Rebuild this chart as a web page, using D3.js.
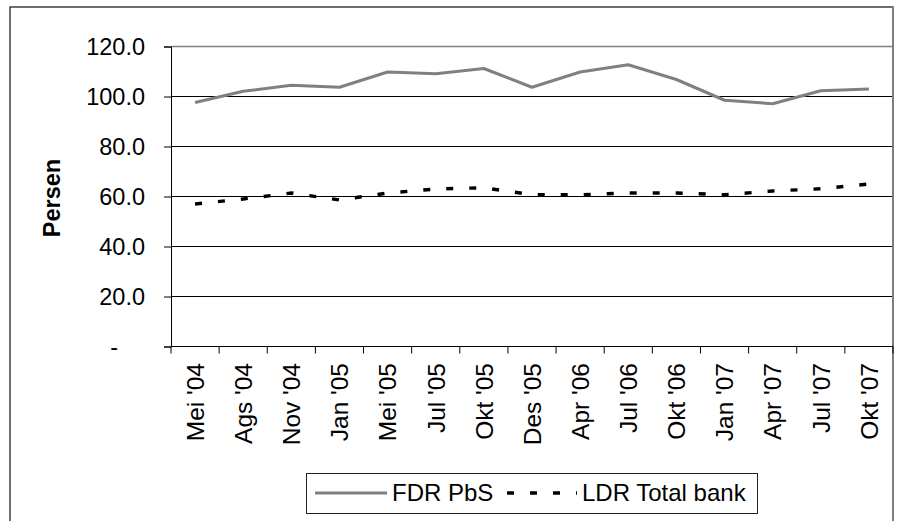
<!DOCTYPE html>
<html>
<head>
<meta charset="utf-8">
<script src="https://cdn.jsdelivr.net/npm/d3@7"></script>
<style>
  html, body { margin: 0; padding: 0; background: #fff; }
  svg { display: block; font-family: "Liberation Sans", Arial, sans-serif; }
</style>
</head>
<body>
<svg id="chart" width="900" height="521"></svg>
<script>
const categories = ["Mei '04", "Ags '04", "Nov '04", "Jan '05", "Mei '05", "Jul '05", "Okt '05", "Des '05", "Apr '06", "Jul '06", "Okt '06", "Jan '07", "Apr '07", "Jul '07", "Okt '07"];
const fdrPbS = [97.6, 102.1, 104.5, 103.7, 109.8, 109.1, 111.2, 103.7, 109.8, 112.7, 106.8, 98.5, 97.1, 102.3, 103.0];
const ldrTotalBank = [57.0, 59.0, 61.4, 58.6, 61.4, 63.0, 63.5, 60.7, 60.7, 61.4, 61.4, 60.7, 62.2, 63.1, 65.0];
const yTicks = [0, 20, 40, 60, 80, 100, 120];
const seriesNames = ["FDR PbS", "LDR Total bank"];
const yTitle = "Persen";

(function () {
const svg = d3.select("#chart");

// outer chart border
svg.append("rect").attr("x", 10).attr("y", 7).attr("width", 883).attr("height", 530)
  .attr("fill", "none").attr("stroke", "#222").attr("stroke-width", 1.3);

const pLeft = 171, pRight = 893, pTop = 46.5, pBottom = 346.5;
const x = d3.scaleBand().domain(categories).range([pLeft, pRight]);
const y = d3.scaleLinear().domain([0, 120]).range([pBottom, pTop]);

// gridlines
svg.append("g").selectAll("line").data(yTicks.filter(d => d > 0 && d < 120)).join("line")
  .attr("x1", pLeft).attr("x2", pRight).attr("y1", d => y(d)).attr("y2", d => y(d))
  .attr("stroke", "#000").attr("stroke-width", 1);

// plot area top & right border (gray)
svg.append("line").attr("x1", pLeft).attr("x2", pRight).attr("y1", y(120)).attr("y2", y(120))
  .attr("stroke", "#808080").attr("stroke-width", 1.5);
svg.append("line").attr("x1", pRight).attr("x2", pRight).attr("y1", 7).attr("y2", 521)
  .attr("stroke", "#808080").attr("stroke-width", 1.8);

// y axis
const yAxis = d3.axisLeft(y).tickValues(yTicks)
  .tickFormat(d => d === 0 ? "-" : d3.format(".1f")(d))
  .tickSize(7).tickPadding(19);
const gy = svg.append("g").attr("transform", `translate(${pLeft},0)`).call(yAxis);
gy.select(".domain").attr("stroke", "#000");
gy.selectAll(".tick line").attr("stroke", "#000");
gy.selectAll(".tick text").attr("fill", "#000").style("font-size", "23.5px")
  .attr("dx", d => d === 0 ? -27 : 0);

// x axis line
svg.append("line").attr("x1", pLeft).attr("x2", pRight).attr("y1", pBottom).attr("y2", pBottom)
  .attr("stroke", "#000").attr("stroke-width", 1);
// x ticks at category boundaries
const bounds = categories.map(c => x(c)).concat([pRight]);
svg.append("g").selectAll("line").data(bounds).join("line")
  .attr("x1", d => d).attr("x2", d => d).attr("y1", pBottom).attr("y2", pBottom + 7)
  .attr("stroke", "#000");
// x labels
svg.append("g").selectAll("text").data(categories).join("text")
  .attr("transform", d => `translate(${x(d) + x.bandwidth() / 2},363) rotate(-90)`)
  .attr("text-anchor", "end").attr("dy", "0.36em")
  .style("font-size", "24.5px").attr("fill", "#000")
  .text(d => d);

// y title
svg.append("text").attr("transform", "translate(52,198) rotate(-90)")
  .attr("text-anchor", "middle").attr("dy", "0.36em")
  .style("font-size", "23.5px").style("font-weight", "bold").text(yTitle);

// lines
const line = d3.line().x((d, i) => x(categories[i]) + x.bandwidth() / 2).y(d => y(d));
svg.append("path").datum(fdrPbS).attr("d", line)
  .attr("fill", "none").attr("stroke", "#808080").attr("stroke-width", 3).attr("stroke-linejoin", "round");
svg.append("path").datum(ldrTotalBank).attr("d", line)
  .attr("fill", "none").attr("stroke", "#000").attr("stroke-width", 3.4).attr("stroke-dasharray", "7,16");

// legend
const lg = svg.append("g");
lg.append("rect").attr("x", 306.5).attr("y", 473.5).attr("width", 451).attr("height", 40)
  .attr("fill", "#fff").attr("stroke", "#222").attr("stroke-width", 1);
lg.append("line").attr("x1", 315).attr("x2", 387).attr("y1", 493).attr("y2", 493)
  .attr("stroke", "#808080").attr("stroke-width", 3);
lg.append("text").attr("x", 392).attr("y", 501).style("font-size", "24px").text(seriesNames[0]);
lg.append("line").attr("x1", 507).attr("x2", 577).attr("y1", 493).attr("y2", 493)
  .attr("stroke", "#000").attr("stroke-width", 3.4).attr("stroke-dasharray", "7,16");
lg.append("text").attr("x", 582).attr("y", 501).style("font-size", "24px").text(seriesNames[1]);
})();
</script>
</body>
</html>
